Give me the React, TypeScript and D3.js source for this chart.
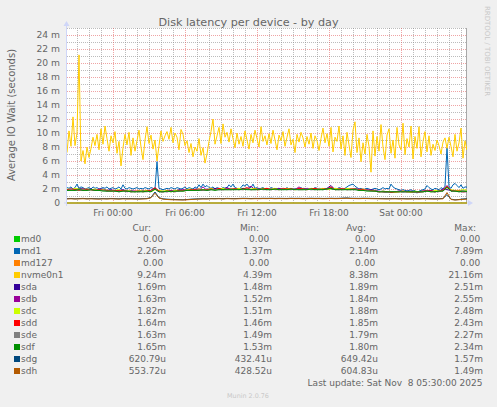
import { useEffect, useRef } from "react";
import * as d3 from "d3";

const START = new Date(2025, 10, 6, 20, 10);
const END = new Date(2025, 10, 8, 5, 30);

const seriesNames = ["md0", "md1", "md127", "nvme0n1", "sda", "sdb", "sdc", "sdd", "sde", "sdf", "sdg", "sdh"];
const seriesColors = ["#00CC00", "#0066B3", "#FF8000", "#FFCC00", "#330099", "#990099", "#CCFF00", "#FF0000", "#808080", "#008F00", "#00487D", "#B35A00"];
// minutes between samples of each series
const seriesSteps = [2000, 10, 2000, 10, 20, 20, 20, 20, 20, 20, 20, 20];

// values in milliseconds
const md0Values = [0, 0];
const md127Values = [0, 0];

const nvme0n1Values = [
  7.2, 10.3, 8.1, 12.3, 8.2, 10.0, 21.16, 6.0, 7.5, 5.6, 8.0, 6.5, 7.8,
  9.4, 8.2, 9.8, 7.6, 10.6, 8.4, 11.0, 9.2,
  7.4, 9.6, 8.6, 10.2, 7.1, 8.8, 5.3, 7.9, 9.8, 8.3,
  10.1, 6.8, 9.3, 7.4, 8.9, 10.4, 8.0, 6.2, 9.0, 10.9,
  8.5, 9.7, 7.7, 9.0, 6.0, 8.2, 10.3, 8.8, 9.6, 10.2,
  9.1, 10.8, 8.6, 10.0, 9.4, 7.6, 10.5, 9.8, 8.2, 8.9,
  7.2, 8.5, 6.6, 8.0, 7.4, 9.2, 6.8, 7.9, 5.7, 7.0,
  8.8, 10.2, 12.0, 8.4, 9.6, 10.8, 8.5, 11.3, 9.4, 10.1,
  8.7, 10.6, 9.2, 7.9, 10.0, 8.4, 9.5, 8.1, 10.3, 9.0,
  7.7, 9.8, 8.6, 10.4, 9.2, 8.0, 10.9, 8.8, 9.6, 8.3,
  9.9, 8.5, 10.4, 9.0, 7.6, 9.7, 8.9, 10.2, 8.1, 9.4,
  10.6, 8.3, 9.1, 7.2, 9.8, 8.7, 10.1, 9.3, 8.0, 9.5,
  8.4, 10.0, 7.8, 9.6, 8.9, 7.5, 9.2, 10.7, 8.6, 9.9,
  8.1, 10.8, 7.3, 9.4, 8.8, 11.0, 7.7, 9.6, 6.8, 10.1,
  8.3, 6.5, 10.4, 11.6, 7.2, 9.3, 5.9, 8.6, 7.0, 9.8,
  8.1, 4.4, 10.3, 6.7, 9.5, 7.4, 11.2, 8.0, 6.2, 9.7,
  10.6, 7.1, 9.0, 6.4, 10.8, 8.3, 7.6, 11.4, 6.9, 9.2,
  8.0, 11.0, 6.3, 9.5, 7.8, 10.9, 6.6, 8.8, 10.2, 7.3,
  9.6, 6.8, 8.4, 7.5, 9.0, 8.2, 7.0, 8.7, 9.3, 7.8,
  9.4, 8.1, 6.6, 9.8, 7.4, 8.6, 10.7, 6.4, 8.9, 7.6, 9.24,
];

const md1Values = [
  2.2, 2.1, 2.3, 2.0, 2.2, 2.7, 2.1, 2.3, 2.2, 2.0,
  2.1, 2.2, 2.0, 2.3, 2.1, 2.2, 2.0, 2.1, 2.2, 2.1,
  2.3, 2.0, 2.1, 2.2, 2.0, 2.1, 2.3, 2.0, 2.6, 2.1,
  2.0, 2.2, 2.1, 2.0, 2.1, 2.2, 2.0, 2.1, 2.0, 2.2,
  2.1, 2.0, 2.2, 2.1, 2.0, 5.9, 2.1, 2.0, 1.9, 2.0,
  2.1, 2.0, 2.2, 2.1, 2.0, 2.2, 2.1, 2.0, 2.1, 2.3,
  2.0, 2.2, 2.1, 2.0, 2.3, 2.1, 2.6, 2.2, 2.7, 2.3,
  2.5, 2.2, 2.1, 2.3, 2.0, 2.2, 2.1, 2.0, 2.2, 2.1,
  2.2, 2.6, 2.3, 2.7, 2.2, 2.1, 2.0, 2.2, 2.6, 2.4,
  2.7, 2.3, 2.2, 2.7, 2.1, 2.2, 2.0, 2.1, 2.2, 2.0,
  2.1, 2.0, 2.2, 2.1, 2.0, 2.1, 1.9, 2.0, 2.1, 2.0,
  2.2, 2.0, 2.1, 1.9, 2.0, 2.1, 2.0, 2.2, 2.0, 2.1,
  2.0, 1.9, 2.1, 2.0, 2.2, 2.1, 2.0, 2.1, 2.0, 2.1,
  2.0, 2.1, 2.0, 1.9, 2.1, 2.0, 2.2, 2.1, 2.0, 2.1,
  2.3, 2.5, 2.6, 2.7, 2.4, 2.2, 2.0, 2.1, 1.9, 2.0,
  2.1, 2.0, 1.9, 2.0, 2.1, 2.0, 1.9, 2.0, 2.2, 2.0,
  2.1, 2.0, 2.7, 2.3, 2.1, 2.0, 1.9, 1.8, 1.9, 1.8,
  1.7, 1.8, 1.9, 1.7, 1.8, 1.4, 1.7, 1.8, 1.9, 2.0,
  2.5, 2.2, 2.0, 1.9, 2.1, 2.0, 1.9, 2.2, 2.0, 2.4,
  7.89, 2.3, 2.1, 2.6, 2.8, 2.5, 2.2, 2.6, 2.1, 2.3, 2.26,
];

const sdaValues = [
  1.9, 2.0, 1.9, 2.1, 2.0, 1.9, 2.0, 1.8, 1.9, 2.0,
  1.8, 1.9, 1.7, 1.8, 1.9, 1.7, 1.8, 1.6, 1.7, 1.8,
  1.7, 1.8, 2.1, 1.7, 1.6, 1.7, 1.8, 1.7, 1.9, 1.8,
  1.9, 1.8, 2.0, 1.9, 1.8, 2.0, 1.9, 2.1, 1.9, 2.0,
  2.2, 1.9, 2.0, 1.9, 2.1, 2.0, 1.9, 2.0, 2.1, 1.9,
  2.0, 1.9, 2.0, 2.1, 1.9, 2.0, 1.9, 2.0, 1.9, 2.1,
  2.0, 1.9, 2.0, 2.0, 1.9, 2.1, 2.5, 1.9, 2.0, 1.9,
  2.0, 1.9, 2.1, 1.9, 2.0, 1.8, 1.9, 1.8, 1.6, 1.7,
  1.6, 1.5, 1.6, 1.7, 1.6, 1.7, 1.6, 1.5, 1.6, 1.7,
  1.8, 1.7, 1.6, 1.7, 2.0, 1.9, 1.8, 1.7, 1.8, 1.7,
  1.69,
];

const sdbValues = [
  1.8, 1.9, 2.0, 1.9, 1.8, 2.0, 1.9, 1.8, 2.0, 1.9,
  1.7, 1.8, 1.8, 1.7, 1.8, 1.6, 1.7, 1.7, 1.6, 1.7,
  1.8, 1.7, 2.0, 1.6, 1.7, 1.6, 1.7, 1.8, 1.7, 1.9,
  1.8, 1.9, 1.9, 1.8, 2.3, 1.8, 2.0, 1.9, 2.0, 1.9,
  2.0, 2.1, 1.9, 2.0, 1.9, 2.0, 2.4, 1.9, 2.0, 2.0,
  1.9, 2.1, 1.9, 2.0, 2.0, 1.9, 2.1, 1.9, 2.3, 1.9,
  2.1, 2.0, 1.9, 2.1, 2.0, 1.9, 2.2, 2.0, 1.9, 2.0,
  1.9, 2.0, 1.9, 2.0, 1.9, 1.9, 1.8, 1.7, 1.7, 1.6,
  1.5, 1.6, 1.6, 1.7, 1.6, 1.6, 1.7, 1.6, 1.5, 1.6,
  1.7, 1.8, 1.7, 1.6, 1.9, 2.5, 1.7, 1.8, 1.7, 1.6,
  1.63,
];

const sdcValues = [
  2.0, 1.9, 2.1, 2.0, 1.9, 2.0, 1.9, 2.0, 1.8, 1.9,
  1.8, 1.7, 1.8, 1.9, 1.7, 1.8, 1.7, 1.6, 1.8, 1.7,
  1.8, 1.6, 1.9, 1.8, 1.7, 1.8, 1.6, 1.8, 1.8, 1.7,
  1.9, 2.0, 1.8, 2.0, 1.9, 1.9, 2.1, 1.9, 2.0, 2.1,
  1.9, 2.0, 2.0, 2.1, 1.9, 2.0, 2.0, 2.1, 1.9, 2.1,
  2.0, 2.0, 2.1, 1.9, 2.0, 2.1, 2.0, 1.9, 2.0, 2.0,
  1.9, 2.1, 2.0, 2.0, 2.1, 1.9, 2.0, 2.1, 2.0, 1.9,
  2.1, 2.0, 2.0, 1.9, 2.0, 1.8, 1.8, 1.7, 1.6, 1.7,
  1.6, 1.6, 1.5, 1.6, 1.7, 1.6, 1.5, 1.7, 1.6, 1.6,
  1.7, 1.6, 1.8, 1.7, 1.8, 2.2, 1.9, 1.8, 1.8, 1.9,
  1.82,
];

const sddValues = [
  1.9, 2.0, 1.9, 1.8, 2.0, 1.9, 1.9, 1.8, 1.9, 1.8,
  1.8, 1.7, 1.8, 1.7, 1.8, 1.7, 1.6, 1.7, 1.7, 1.6,
  1.7, 1.8, 2.2, 1.7, 1.6, 1.7, 1.7, 1.6, 1.8, 1.8,
  1.8, 1.9, 1.9, 2.0, 1.8, 1.9, 2.0, 1.9, 2.1, 1.9,
  2.0, 1.9, 2.1, 1.9, 2.0, 2.2, 1.9, 2.0, 1.9, 2.0,
  2.1, 1.9, 2.0, 1.9, 2.1, 2.0, 2.0, 1.9, 2.1, 2.0,
  1.9, 2.0, 2.1, 1.9, 2.0, 2.0, 2.3, 1.9, 2.0, 2.1,
  1.9, 2.0, 2.0, 1.9, 1.9, 1.8, 1.8, 1.7, 1.6, 1.6,
  1.6, 1.5, 1.6, 1.6, 1.7, 1.6, 1.6, 1.5, 1.6, 1.7,
  1.7, 1.7, 1.6, 1.7, 1.8, 2.4, 1.8, 1.7, 1.7, 1.6,
  1.64,
];

const sdeValues = [
  1.8, 1.9, 1.8, 1.9, 1.9, 1.8, 1.9, 1.8, 1.8, 1.8,
  1.7, 1.7, 1.7, 1.6, 1.7, 1.7, 1.6, 1.6, 1.7, 1.6,
  1.6, 1.7, 2.0, 1.6, 1.6, 1.6, 1.7, 1.6, 1.7, 1.7,
  1.8, 1.8, 1.8, 1.9, 1.8, 1.8, 1.9, 1.9, 1.9, 1.9,
  1.9, 1.9, 2.0, 1.9, 1.9, 2.0, 1.9, 1.9, 2.0, 1.9,
  1.9, 2.0, 1.9, 1.9, 2.0, 1.9, 1.9, 2.0, 1.9, 1.9,
  2.0, 1.9, 1.9, 2.0, 1.9, 2.0, 2.1, 1.9, 1.9, 2.0,
  1.9, 1.9, 2.0, 1.8, 1.8, 1.8, 1.7, 1.7, 1.6, 1.6,
  1.5, 1.6, 1.6, 1.6, 1.6, 1.6, 1.6, 1.5, 1.6, 1.6,
  1.7, 1.6, 1.6, 1.7, 1.7, 2.2, 1.7, 1.7, 1.6, 1.6,
  1.63,
];

const sdfValues = [
  1.8, 1.8, 1.8, 1.9, 1.8, 1.8, 1.9, 1.8, 1.8, 1.7,
  1.7, 1.7, 1.7, 1.6, 1.7, 1.7, 1.6, 1.6, 1.6, 1.6,
  1.7, 1.6, 2.0, 1.6, 1.6, 1.7, 1.6, 1.7, 1.7, 1.7,
  1.8, 1.8, 1.8, 1.8, 1.9, 1.8, 1.9, 1.8, 1.9, 1.9,
  1.9, 1.9, 1.9, 1.9, 2.0, 1.9, 1.9, 1.9, 1.9, 2.0,
  1.9, 1.9, 2.0, 1.9, 1.9, 1.9, 2.0, 1.9, 1.9, 1.9,
  1.9, 2.0, 1.9, 1.9, 1.9, 2.0, 2.1, 1.9, 1.9, 1.9,
  1.9, 1.9, 1.9, 1.8, 1.8, 1.7, 1.7, 1.7, 1.6, 1.6,
  1.6, 1.6, 1.6, 1.6, 1.6, 1.6, 1.6, 1.6, 1.6, 1.6,
  1.7, 1.6, 1.6, 1.7, 1.7, 2.3, 1.7, 1.7, 1.6, 1.7,
  1.65,
];

const sdgValues = [
  0.62, 0.65, 0.60, 0.63, 0.66, 0.61, 0.64, 0.62, 0.60, 0.63,
  0.61, 0.65, 0.62, 0.60, 0.64, 0.62, 0.63, 0.61, 0.60, 0.62,
  0.64, 0.80, 1.57, 0.75, 0.60, 0.55, 0.52, 0.50, 0.48, 0.46,
  0.50, 0.55, 0.58, 0.60, 0.62, 0.61, 0.64, 0.63, 0.65, 0.62,
  0.66, 0.64, 0.63, 0.65, 0.67, 0.66, 0.64, 0.66, 0.65, 0.67,
  0.66, 0.68, 0.65, 0.67, 0.66, 0.65, 0.68, 0.66, 0.67, 0.65,
  0.66, 0.68, 0.66, 0.67, 0.65, 0.66, 0.68, 0.66, 0.67, 0.70,
  0.72, 0.68, 0.67, 0.66, 0.68, 0.67, 0.66, 0.65, 0.64, 0.63,
  0.62, 0.63, 0.64, 0.62, 0.63, 0.61, 0.62, 0.63, 0.62, 0.64,
  0.63, 0.62, 0.61, 0.62, 0.65, 1.20, 0.55, 0.45, 0.50, 0.58,
  0.621,
];

const sdhValues = [
  0.58, 0.60, 0.57, 0.59, 0.61, 0.58, 0.60, 0.57, 0.56, 0.59,
  0.57, 0.60, 0.58, 0.56, 0.59, 0.57, 0.58, 0.57, 0.56, 0.58,
  0.60, 0.75, 1.40, 0.70, 0.55, 0.50, 0.47, 0.45, 0.44, 0.43,
  0.46, 0.50, 0.53, 0.56, 0.58, 0.57, 0.60, 0.59, 0.61, 0.58,
  0.62, 0.60, 0.59, 0.61, 0.63, 0.62, 0.60, 0.62, 0.61, 0.63,
  0.62, 0.64, 0.61, 0.63, 0.62, 0.61, 0.64, 0.62, 0.63, 0.61,
  0.62, 0.64, 0.62, 0.63, 0.61, 0.62, 0.64, 0.62, 0.63, 0.66,
  0.68, 0.64, 0.63, 0.62, 0.64, 0.63, 0.62, 0.61, 0.60, 0.59,
  0.58, 0.59, 0.60, 0.58, 0.59, 0.57, 0.58, 0.59, 0.58, 0.60,
  0.59, 0.58, 0.57, 0.58, 0.60, 1.49, 0.50, 0.43, 0.47, 0.52,
  0.554,
];

const seriesValues = [
  md0Values, md1Values, md127Values, nvme0n1Values, sdaValues, sdbValues,
  sdcValues, sddValues, sdeValues, sdfValues, sdgValues, sdhValues,
];

// legend text, as printed
const curText = ["0.00", "2.26m", "0.00", "9.24m", "1.69m", "1.63m", "1.82m", "1.64m", "1.63m", "1.65m", "620.79u", "553.72u"];
const minText = ["0.00", "1.37m", "0.00", "4.39m", "1.48m", "1.52m", "1.51m", "1.46m", "1.49m", "1.53m", "432.41u", "428.52u"];
const avgText = ["0.00", "2.14m", "0.00", "8.38m", "1.89m", "1.84m", "1.88m", "1.85m", "1.79m", "1.80m", "649.42u", "604.83u"];
const maxText = ["0.00", "7.89m", "0.00", "21.16m", "2.51m", "2.55m", "2.48m", "2.43m", "2.27m", "2.34m", "1.57m", "1.49m"];
const columnHeads = ["Cur:", "Min:", "Avg:", "Max:"];

const FONT = "'DejaVu Sans', sans-serif";
const TEXT = "#666666";
const AXIS = "#CFD6F8";

export default function App() {
  const ref = useRef<SVGSVGElement>(null);

  useEffect(() => {
    const width = 497;
    const height = 407;
    const svg = d3.select(ref.current).attr("width", width).attr("height", height);
    svg.selectAll("*").remove();

    const plot = { left: 67, right: 467, top: 28, bottom: 203 };

    svg.append("rect").attr("width", width).attr("height", height).attr("fill", "#F0F0F0");
    svg
      .append("rect")
      .attr("x", plot.left)
      .attr("y", plot.top)
      .attr("width", plot.right - plot.left)
      .attr("height", plot.bottom - plot.top)
      .attr("fill", "#FFFFFF");

    const x = d3.scaleTime().domain([START, END]).range([plot.left, plot.right]);
    const y = d3.scaleLinear().domain([0, 0.025]).range([plot.bottom, plot.top]);

    // grid
    const grid = svg.append("g").attr("stroke-dasharray", "1,1").attr("stroke-width", 1);
    const minorY = d3.range(1, 26, 2).map((d) => d / 1000);
    const majorY = d3.range(2, 25, 2).map((d) => d / 1000);
    const hours = x.ticks(d3.timeHour.every(1)!);
    const sixHours = x.ticks(d3.timeHour.every(6)!);
    const crisp = (v: number) => Math.round(v) + 0.5;
    const minorColor = "rgba(143,143,143,0.6)";
    const majorColor = "rgba(225,90,90,0.55)";

    grid
      .selectAll("line.minor-y")
      .data(minorY)
      .enter()
      .append("line")
      .attr("x1", plot.left)
      .attr("x2", plot.right)
      .attr("y1", (d) => crisp(y(d)))
      .attr("y2", (d) => crisp(y(d)))
      .attr("stroke", minorColor);
    grid
      .selectAll("line.minor-x")
      .data(hours.filter((h) => h.getHours() % 6 !== 0))
      .enter()
      .append("line")
      .attr("x1", (d) => crisp(x(d)))
      .attr("x2", (d) => crisp(x(d)))
      .attr("y1", plot.top)
      .attr("y2", plot.bottom)
      .attr("stroke", minorColor);
    grid
      .selectAll("line.major-y")
      .data(majorY)
      .enter()
      .append("line")
      .attr("x1", plot.left)
      .attr("x2", plot.right)
      .attr("y1", (d) => crisp(y(d)))
      .attr("y2", (d) => crisp(y(d)))
      .attr("stroke", majorColor);
    grid
      .selectAll("line.major-x")
      .data(sixHours)
      .enter()
      .append("line")
      .attr("x1", (d) => crisp(x(d)))
      .attr("x2", (d) => crisp(x(d)))
      .attr("y1", plot.top)
      .attr("y2", plot.bottom)
      .attr("stroke", majorColor);

    // right edge of canvas
    svg
      .append("line")
      .attr("x1", plot.right - 0.5)
      .attr("x2", plot.right - 0.5)
      .attr("y1", plot.top)
      .attr("y2", plot.bottom)
      .attr("stroke", "#A8A8A8");

    // axes (drawn under the series, as rrdtool does)
    const axisY = crisp(plot.bottom) - 0.5;
    svg
      .append("line")
      .attr("x1", plot.left - 3)
      .attr("x2", plot.right + 2)
      .attr("y1", axisY)
      .attr("y2", axisY)
      .attr("stroke", AXIS);
    svg
      .append("line")
      .attr("x1", plot.left - 0.5)
      .attr("x2", plot.left - 0.5)
      .attr("y1", plot.bottom + 3)
      .attr("y2", plot.top - 3)
      .attr("stroke", AXIS);
    svg
      .append("path")
      .attr("d", `M${plot.right + 1},${axisY - 3}L${plot.right + 6},${axisY}L${plot.right + 1},${axisY + 3}Z`)
      .attr("fill", AXIS);
    svg
      .append("path")
      .attr("d", `M${plot.left - 3.5},${plot.top - 2}L${plot.left - 0.5},${plot.top - 7}L${plot.left + 2.5},${plot.top - 2}Z`)
      .attr("fill", AXIS);

    // series
    svg
      .append("clipPath")
      .attr("id", "canvas-clip")
      .append("rect")
      .attr("x", plot.left)
      .attr("y", plot.top - 1)
      .attr("width", plot.right - plot.left)
      .attr("height", plot.bottom - plot.top + 2);

    type Pt = { t: Date; v: number };
    const line = d3
      .line<Pt>()
      .x((d) => x(d.t))
      .y((d) => y(d.v));

    const lines = svg.append("g").attr("clip-path", "url(#canvas-clip)");
    seriesValues.forEach((values, i) => {
      const pts: Pt[] = values.map((v, k) => ({
        t: d3.timeMinute.offset(START, k * seriesSteps[i]),
        v: v / 1000,
      }));
      lines
        .append("path")
        .datum(pts)
        .attr("d", line)
        .attr("fill", "none")
        .attr("stroke", seriesColors[i])
        .attr("stroke-width", 1)
        .attr("stroke-linejoin", "round");
    });

    // tick labels
    svg
      .append("g")
      .selectAll("text")
      .data(d3.range(0, 25, 2))
      .enter()
      .append("text")
      .attr("x", plot.left - 7)
      .attr("y", (d) => y(d / 1000) + 3.3)
      .attr("text-anchor", "end")
      .attr("font-family", FONT)
      .attr("font-size", 9.2)
      .attr("fill", TEXT)
      .text((d) => (d === 0 ? "0" : `${d} m`));

    const fmt = d3.timeFormat("%a %H:%M");
    svg
      .append("g")
      .selectAll("text")
      .data(sixHours)
      .enter()
      .append("text")
      .attr("x", (d) => x(d))
      .attr("y", 216)
      .attr("text-anchor", "middle")
      .attr("font-family", FONT)
      .attr("font-size", 9)
      .attr("fill", TEXT)
      .text((d) => fmt(d));

    // titles
    svg
      .append("text")
      .attr("x", width / 2)
      .attr("y", 25.5)
      .attr("text-anchor", "middle")
      .attr("font-family", FONT)
      .attr("font-size", 11.2)
      .attr("fill", TEXT)
      .text("Disk latency per device - by day");

    svg
      .append("text")
      .attr("transform", "translate(11,115) rotate(-90)")
      .attr("text-anchor", "middle")
      .attr("dominant-baseline", "central")
      .attr("font-family", FONT)
      .attr("font-size", 10)
      .attr("fill", TEXT)
      .text("Average IO Wait (seconds)");

    svg
      .append("text")
      .attr("transform", "translate(487,51) rotate(90)")
      .attr("text-anchor", "middle")
      .attr("dominant-baseline", "central")
      .attr("font-family", FONT)
      .attr("font-size", 7)
      .attr("fill", "#C8C8C8")
      .text("RRDTOOL / TOBI OETIKER");

    // legend
    const legend = svg.append("g").attr("font-family", FONT).attr("font-size", 9).attr("fill", TEXT);
    const headRight = [151, 259, 366, 476];
    legend
      .selectAll("text.head")
      .data(columnHeads)
      .enter()
      .append("text")
      .attr("x", (_, i) => headRight[i])
      .attr("y", 231)
      .attr("text-anchor", "end")
      .text((d) => d);

    const rowY = (i: number) => 239 + i * 12;
    const rows = legend
      .selectAll("g.row")
      .data(seriesNames)
      .enter()
      .append("g")
      .attr("transform", (_, i) => `translate(0,${rowY(i)})`);
    rows
      .append("rect")
      .attr("x", 14)
      .attr("y", -3)
      .attr("width", 6)
      .attr("height", 6)
      .attr("fill", (_, i) => seriesColors[i]);
    rows
      .append("text")
      .attr("x", 21)
      .attr("y", 3.3)
      .text((d) => d);

    const valueRight = [166, 272, 378, 483];
    const columns = [curText, minText, avgText, maxText];
    const pad = (s: string) => (/[mu]$/.test(s) ? s : s + "\u00a0");
    columns.forEach((col, c) => {
      rows
        .append("text")
        .attr("x", valueRight[c])
        .attr("y", 3.3)
        .attr("text-anchor", "end")
        .text((_, i) => pad(col[i]));
    });

    legend
      .append("text")
      .attr("x", 482.5)
      .attr("y", 386.3)
      .attr("text-anchor", "end")
      .text("Last update: Sat Nov\u00a0 8 05:30:00 2025");

    svg
      .append("text")
      .attr("x", 248)
      .attr("y", 397.5)
      .attr("text-anchor", "middle")
      .attr("font-family", FONT)
      .attr("font-size", 6.4)
      .attr("fill", "#C8C8C8")
      .text("Munin 2.0.76");
  }, []);

  return <svg ref={ref} style={{ position: "absolute", left: 0, top: 0, display: "block" }} />;
}
